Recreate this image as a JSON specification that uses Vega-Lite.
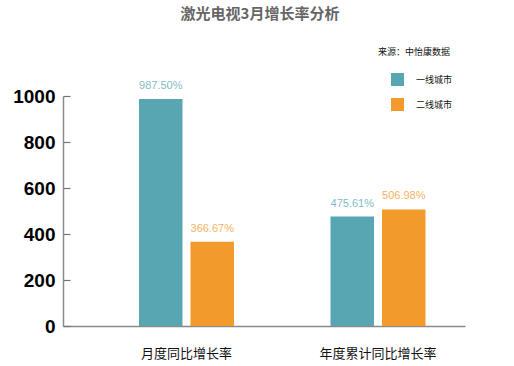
{
  "$schema": "https://vega.github.io/schema/vega-lite/v6.json",
  "width": 402,
  "height": 230,
  "autosize": {"type": "none"},
  "padding": {"left": 63, "top": 96, "right": 49, "bottom": 40},
  "background": "white",
  "title": {
    "text": "激光电视3月增长率分析",
    "font": "Noto Sans CJK SC",
    "fontSize": 15,
    "fontWeight": "bold",
    "color": "#666666",
    "anchor": "middle",
    "frame": "group",
    "offset": 26,
    "dx": -4
  },
  "config": {
    "view": {"stroke": null},
    "font": "Noto Sans CJK SC"
  },
  "resolve": {"axis": {"y": "independent"}},
  "data": {
    "values": [
      {"指标": "月度同比增长率", "城市": "一线城市", "值": 987.5, "标签": "987.50%"},
      {"指标": "月度同比增长率", "城市": "二线城市", "值": 366.67, "标签": "366.67%"},
      {"指标": "年度累计同比增长率", "城市": "一线城市", "值": 475.61, "标签": "475.61%"},
      {"指标": "年度累计同比增长率", "城市": "二线城市", "值": 506.98, "标签": "506.98%"}
    ]
  },
  "encoding": {
    "x": {
      "field": "指标",
      "type": "nominal",
      "sort": ["月度同比增长率", "年度累计同比增长率"],
      "scale": {"paddingInner": 0.504, "paddingOuter": 0.3015, "align": 0.658},
      "axis": {
        "title": null,
        "labelAngle": 0,
        "ticks": false,
        "domainColor": "#8a8a8a",
        "domainWidth": 1.5,
        "labelFontSize": 13,
        "labelColor": "#111111",
        "labelPadding": 21,
        "labelFont": "Noto Sans CJK SC"
      }
    },
    "xOffset": {
      "field": "城市",
      "type": "nominal",
      "sort": ["一线城市", "二线城市"],
      "scale": {"paddingInner": 0.155, "paddingOuter": 0}
    }
  },
  "layer": [
    {
      "mark": {"type": "bar"},
      "encoding": {
        "y": {
          "field": "值",
          "type": "quantitative",
          "scale": {"domain": [0, 1000]},
          "axis": {
            "title": null,
            "values": [0, 200, 400, 600, 800, 1000],
            "format": "d",
            "grid": false,
            "domainColor": "#8a8a8a",
            "domainWidth": 1.5,
            "ticks": false,
            "labelPadding": 8,
            "labelFont": "Liberation Sans",
            "labelFontSize": 19,
            "labelFontWeight": "bold",
            "labelColor": "#000000"
          }
        },
        "color": {
          "field": "城市",
          "type": "nominal",
          "sort": ["一线城市", "二线城市"],
          "scale": {"domain": ["一线城市", "二线城市"], "range": ["#58a6b2", "#f39a2c"]},
          "legend": {
            "orient": "none",
            "legendX": 315,
            "legendY": -48,
            "title": "来源：中怡康数据",
            "titleFont": "Noto Sans CJK SC",
            "titleFontSize": 9,
            "titleFontWeight": "normal",
            "titleColor": "#111111",
            "titlePadding": 16,
            "symbolType": "square",
            "symbolSize": 169,
            "symbolStrokeWidth": 0,
            "symbolOffset": 13,
            "rowPadding": 12,
            "labelFontSize": 9,
            "labelColor": "#111111",
            "labelOffset": 12,
            "labelFont": "Noto Sans CJK SC"
          }
        }
      }
    },
    {
      "mark": {"type": "text", "dy": -8, "fontSize": 11, "font": "Liberation Sans", "baseline": "bottom"},
      "encoding": {
        "y": {
          "field": "值",
          "type": "quantitative",
          "axis": {
            "title": null,
            "orient": "right",
            "offset": -402,
            "values": [0, 200, 400, 600, 800, 1000],
            "labels": false,
            "domain": false,
            "grid": false,
            "ticks": true,
            "tickSize": 7,
            "tickColor": "#777777",
            "tickWidth": 1.2
          }
        },
        "text": {"field": "标签"},
        "color": {
          "field": "城市",
          "type": "nominal",
          "scale": {"domain": ["一线城市", "二线城市"], "range": ["#58a6b2", "#f39a2c"]},
          "legend": null
        },
        "opacity": {"value": 0.75}
      }
    }
  ]
}
